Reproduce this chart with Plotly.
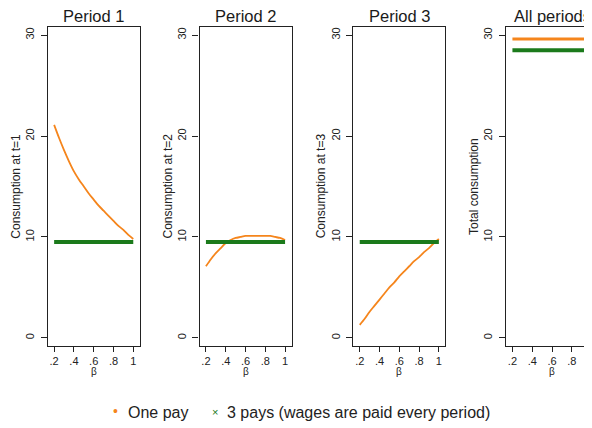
import plotly.graph_objects as go

# ---- data ----
beta = [0.20, 0.25, 0.30, 0.35, 0.40, 0.45, 0.50, 0.55, 0.60,
        0.65, 0.70, 0.75, 0.80, 0.85, 0.90, 0.95, 1.00]
one_pay_t1 = [21.1, 19.8, 18.6, 17.5, 16.5, 15.7, 15.0, 14.3, 13.7,
              13.1, 12.6, 12.1, 11.6, 11.1, 10.7, 10.2, 9.8]
one_pay_t2 = [7.1, 7.8, 8.4, 8.9, 9.4, 9.7, 9.9, 10.0, 10.1,
              10.1, 10.1, 10.1, 10.1, 10.1, 10.0, 9.9, 9.7]
one_pay_t3 = [1.3, 1.9, 2.6, 3.2, 3.8, 4.4, 5.0, 5.5, 6.1,
              6.6, 7.1, 7.6, 8.0, 8.5, 8.9, 9.4, 9.8]
one_pay_total = [29.6] * 17
three_pays_t = [9.5] * 17
three_pays_total = [28.5] * 17

panel_titles = ["Period 1", "Period 2", "Period 3", "All periods"]
y_titles = ["Consumption at t=1", "Consumption at t=2", "Consumption at t=3", "Total consumption"]
x_tickvals = [0.2, 0.4, 0.6, 0.8, 1.0]
x_ticktext = [".2", ".4", ".6", ".8", "1"]
y_tickvals = [0, 10, 20, 30]
y_ticktext = ["0", "10", "20", "30"]
legend_labels = ["One pay", "3 pays (wages are paid every period)"]

ORANGE = "#F5851C"
GREEN = "#1B7A1B"
FONT = "Liberation Sans, Arial, sans-serif"
W, H = 600, 428
OFF = 8.0  # page body margin


def px(x):
    return (x - OFF) / W


def py(y):
    return 1 - (y - OFF) / H


one_series = [one_pay_t1, one_pay_t2, one_pay_t3, one_pay_total]
three_series = [three_pays_t, three_pays_t, three_pays_t, three_pays_total]

# ---- layout geometry (page px) ----
lefts = [47.7, 199.5, 353.3, 506.0]
pw = 92.0
top_px, bot_px = 27.0, 346.0
ydom = [py(bot_px), py(top_px)]

fig = go.Figure()
layout = dict(
    width=W, height=H, margin=dict(l=0, r=0, t=0, b=0),
    paper_bgcolor="white", plot_bgcolor="white",
    showlegend=False, font=dict(family=FONT, color="#222"),
)
annotations = []

for i in range(4):
    n = "" if i == 0 else str(i + 1)
    xa, ya = "x" + n, "y" + n
    left = lefts[i]
    right = left + pw
    fig.add_trace(go.Scatter(x=beta, y=one_series[i], mode="lines",
                             line=dict(color=ORANGE, width=1.8 if i < 3 else 3.0,
                                       shape="spline", smoothing=0.8),
                             xaxis=xa, yaxis=ya))
    fig.add_trace(go.Scatter(x=beta, y=three_series[i], mode="lines",
                             line=dict(color=GREEN, width=4),
                             xaxis=xa, yaxis=ya))
    layout["xaxis" + n] = dict(
        domain=[px(left), px(right)], range=[0.135, 1.065], anchor=ya,
        showline=True, mirror=True, linecolor="#222", linewidth=1.3,
        ticks="outside", ticklen=5, tickwidth=1.2, tickcolor="#222",
        tickvals=x_tickvals, ticktext=x_ticktext,
        tickfont=dict(size=11, family=FONT, color="#222"),
        showgrid=False, zeroline=False, fixedrange=True,
    )
    layout["yaxis" + n] = dict(
        domain=ydom, range=[-0.8, 30.8], anchor=xa,
        showline=True, mirror=True, linecolor="#222", linewidth=1.3,
        ticks="outside", ticklen=6, tickwidth=1.2, tickcolor="#222",
        tickvals=y_tickvals, ticktext=y_ticktext, tickangle=-90,
        ticklabelstandoff=2,
        tickfont=dict(size=11, family=FONT, color="#222"),
        showgrid=False, zeroline=False, fixedrange=True,
    )
    cx = px(left + pw / 2)
    annotations.append(dict(text=panel_titles[i], x=cx, y=py(16.5),
                            xref="paper", yref="paper", showarrow=False,
                            font=dict(size=16.5, family=FONT, color="#1a1a1a"),
                            xanchor="center", yanchor="middle"))
    annotations.append(dict(text=y_titles[i], x=px(left - 32),
                            y=py(186), xref="paper", yref="paper",
                            showarrow=False, textangle=-90,
                            font=dict(size=12, family=FONT, color="#222"),
                            xanchor="center", yanchor="middle"))
    annotations.append(dict(text="β", x=cx, y=py(371.5),
                            xref="paper", yref="paper", showarrow=False,
                            font=dict(size=10, family=FONT, color="#222"),
                            xanchor="center", yanchor="middle"))

# legend
annotations.append(dict(text="•", x=px(115), y=py(411), xref="paper", yref="paper",
                        showarrow=False, font=dict(size=14, color=ORANGE, family=FONT),
                        xanchor="center", yanchor="middle"))
annotations.append(dict(text=legend_labels[0], x=px(126), y=py(412), xref="paper",
                        yref="paper", showarrow=False,
                        font=dict(size=16, color="#222", family=FONT),
                        xanchor="left", yanchor="middle"))
annotations.append(dict(text="×", x=px(215), y=py(412), xref="paper", yref="paper",
                        showarrow=False, font=dict(size=11, color=GREEN, family=FONT),
                        xanchor="center", yanchor="middle"))
annotations.append(dict(text=legend_labels[1], x=px(225), y=py(412), xref="paper",
                        yref="paper", showarrow=False,
                        font=dict(size=16, color="#222", family=FONT),
                        xanchor="left", yanchor="middle"))

layout["annotations"] = annotations
fig.update_layout(**layout)
fig.write_html("out.html")
